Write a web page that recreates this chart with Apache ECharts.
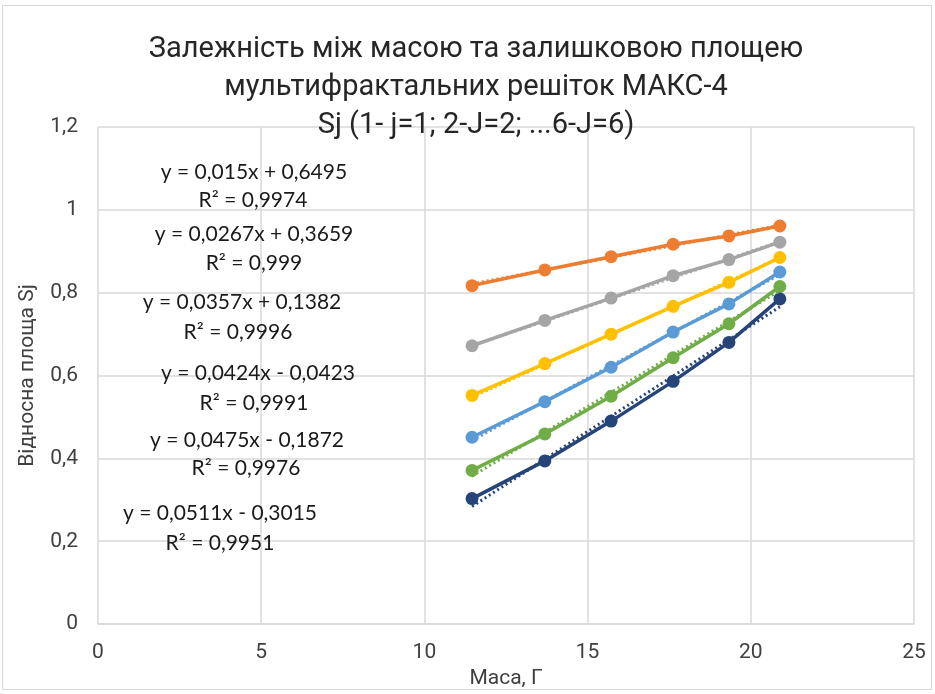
<!DOCTYPE html>
<html>
<head>
<meta charset="utf-8">
<script src="https://cdn.jsdelivr.net/npm/echarts@6/dist/echarts.min.js"></script>
<style>
  html, body { margin: 0; padding: 0; background: #fff; }
  #chart { width: 935px; height: 694px; }
</style>
</head>
<body>
<div id="chart"></div>
<script>
// Mass of the sample, g
const masses = [11.46, 13.69, 15.72, 17.62, 19.33, 20.89];

// Relative residual area Sj for each grid level
const s1 = [0.817, 0.855, 0.887, 0.917, 0.937, 0.961];
const s2 = [0.672, 0.733, 0.787, 0.841, 0.880, 0.922];
const s3 = [0.552, 0.629, 0.700, 0.767, 0.825, 0.885];
const s4 = [0.451, 0.537, 0.620, 0.705, 0.773, 0.850];
const s5 = [0.371, 0.459, 0.550, 0.643, 0.725, 0.815];
const s6 = [0.303, 0.394, 0.490, 0.586, 0.680, 0.785];

// Linear trend coefficients (y = a*x + b) and fit quality
const slopes = [0.015, 0.0267, 0.0357, 0.0424, 0.0475, 0.0511];
const intercepts = [0.6495, 0.3659, 0.1382, -0.0423, -0.1872, -0.3015];
const eqLabels = [
  'y = 0,015x + 0,6495',
  'y = 0,0267x + 0,3659',
  'y = 0,0357x + 0,1382',
  'y = 0,0424x - 0,0423',
  'y = 0,0475x - 0,1872',
  'y = 0,0511x - 0,3015'
];
const r2Labels = ['R² = 0,9974', 'R² = 0,999', 'R² = 0,9996', 'R² = 0,9991', 'R² = 0,9976', 'R² = 0,9951'];

// Axis tick labels
const xTickLabels = ['0', '5', '10', '15', '20', '25'];
const yTickLabels = ['0', '0,2', '0,4', '0,6', '0,8', '1', '1,2'];

const titleLines = [
  'Залежність між масою та залишковою площею',
  'мультифрактальних решіток МАКС-4',
  'Sj (1- j=1; 2-J=2; ...6-J=6)'
];

const colors = ['#ED7D31', '#A5A5A5', '#FFC000', '#5B9BD5', '#70AD47', '#264478'];
const seriesValues = [s1, s2, s3, s4, s5, s6];

const uiFont = 'Roboto';
const eqFont = 'Lato';

const series = [];
// dotted linear trend lines, drawn from the fitted coefficients
seriesValues.forEach((vals, i) => {
  const x0 = masses[0], x1 = masses[masses.length - 1];
  series.push({
    type: 'line',
    data: [[x0, slopes[i] * x0 + intercepts[i]], [x1, slopes[i] * x1 + intercepts[i]]],
    showSymbol: false,
    symbol: 'none',
    silent: true,
    z: 3,
    lineStyle: { color: colors[i], width: 3, type: [2, 3] }
  });
});
// measured points joined by solid lines
seriesValues.forEach((vals, i) => {
  series.push({
    type: 'line',
    data: masses.map((m, k) => [m, vals[k]]),
    symbol: 'circle',
    symbolSize: 13,
    z: 2,
    itemStyle: { color: colors[i] },
    lineStyle: { color: colors[i], width: 3.5 }
  });
});

// equation label positions (centre x, middle y)
const eqPos = [[254, 172], [254, 234], [242, 302], [258, 373], [247, 440], [220, 513]];
const r2Pos = [[253, 200], [254, 263], [238, 332], [254, 403], [246, 468], [220, 543]];

const graphics = [
  {
    type: 'rect',
    shape: { x: 2.5, y: 5.5, width: 929, height: 684 },
    style: { fill: 'none', stroke: '#d9d9d9', lineWidth: 1 },
    silent: true, z: 0
  }
];
titleLines.forEach((t, i) => {
  graphics.push({
    type: 'text',
    x: 476, y: 50 + i * 38,
    style: { text: t, font: '29px ' + uiFont, fill: '#262626', textAlign: 'center', textVerticalAlign: 'middle' },
    z: 10
  });
});
eqLabels.forEach((t, i) => {
  graphics.push({
    type: 'text', x: eqPos[i][0], y: eqPos[i][1],
    style: { text: t, font: '21px ' + eqFont, fill: '#1a1a1a', textAlign: 'center', textVerticalAlign: 'middle' },
    z: 10
  });
  graphics.push({
    type: 'text', x: r2Pos[i][0], y: r2Pos[i][1],
    style: { text: r2Labels[i], font: '21px ' + eqFont, fill: '#1a1a1a', textAlign: 'center', textVerticalAlign: 'middle' },
    z: 10
  });
});

const option = {
  animation: false,
  backgroundColor: '#fff',
  grid: { left: 98, right: 21, top: 127, bottom: 69, containLabel: false },
  xAxis: {
    type: 'value', min: 0, max: 25, interval: 5,
    name: 'Маса, Г', nameLocation: 'middle', nameGap: 42,
    nameTextStyle: { fontFamily: uiFont, fontSize: 21, color: '#404040' },
    axisLine: { show: true, lineStyle: { color: '#d9d9d9', width: 1.5 } },
    axisTick: { show: false },
    splitLine: { show: true, lineStyle: { color: '#d9d9d9', width: 1.5 } },
    axisLabel: {
      fontFamily: uiFont, fontSize: 21, color: '#404040', margin: 18,
      formatter: v => xTickLabels[Math.round(v / 5)]
    }
  },
  yAxis: {
    type: 'value', min: 0, max: 1.2, interval: 0.2,
    name: 'Відносна площа Sj', nameLocation: 'middle', nameGap: 60,
    nameTextStyle: { fontFamily: uiFont, fontSize: 21, color: '#404040' },
    axisLine: { show: false },
    axisTick: { show: false },
    splitLine: { show: true, lineStyle: { color: '#d9d9d9', width: 1.5 } },
    axisLabel: {
      fontFamily: uiFont, fontSize: 21, color: '#404040', margin: 20,
      formatter: v => yTickLabels[Math.round(v / 0.2)]
    }
  },
  series: series,
  graphic: graphics
};

const chart = echarts.init(document.getElementById('chart'), null, { renderer: 'canvas' });
chart.setOption(option);
</script>
</body>
</html>
